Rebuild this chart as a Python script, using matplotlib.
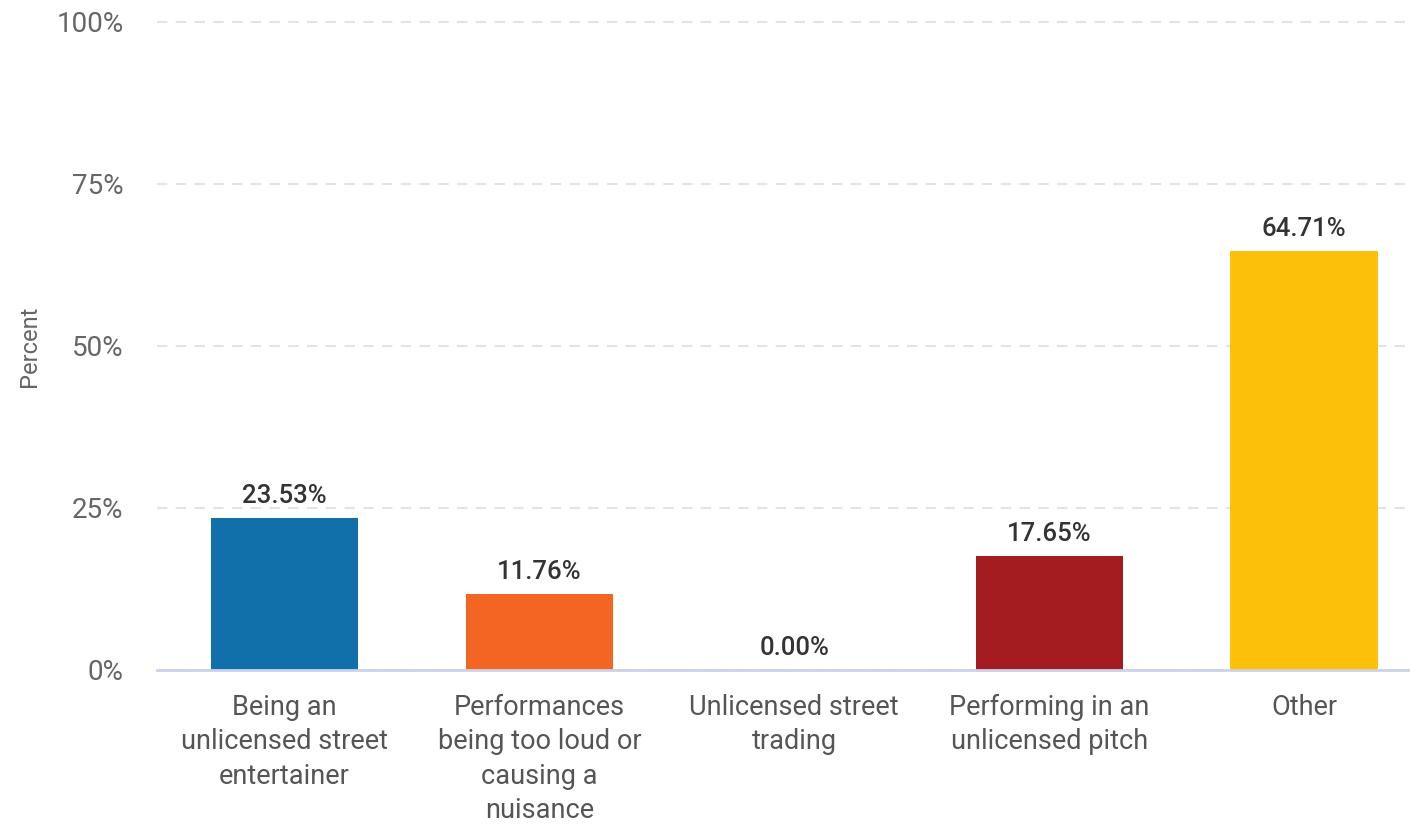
import matplotlib.pyplot as plt
from matplotlib.ticker import FuncFormatter

plt.rcParams['font.family'] = ['Roboto', 'DejaVu Sans']

categories = [
    "Being an\nunlicensed street\nentertainer",
    "Performances\nbeing too loud or\ncausing a\nnuisance",
    "Unlicensed street\ntrading",
    "Performing in an\nunlicensed pitch",
    "Other",
]
values = [23.53, 11.76, 0.00, 17.65, 64.71]
colors = ["#1170AA", "#F26522", "#7F7F7F", "#A51C20", "#FCBF0A"]
yticks = [0, 25, 50, 75, 100]

fig = plt.figure(figsize=(14.10, 8.24), dpi=100)
ax = fig.add_axes([157 / 1410, 1 - 670 / 824, 1 - 157 / 1410, (670 - 22) / 824])

x = list(range(len(categories)))
ax.bar(x, values, width=0.577, color=colors, zorder=3)

for xi, v in zip(x, values):
    ax.annotate(f"{v:.2f}%", (xi, v), xytext=(0, 7), textcoords="offset points",
                ha="center", va="bottom", fontsize=18.5, fontweight="medium",
                color="#333333", zorder=4)

ax.set_xlim(-0.5, 4.416)
ax.set_ylim(0, 100)
ax.set_yticks(yticks)
ax.yaxis.set_major_formatter(FuncFormatter(lambda v, p: f"{v:.0f}%"))
ax.set_xticks(x)
ax.set_xticklabels(categories, fontsize=19.5, color="#555555", linespacing=1.36)

ax.tick_params(axis="y", length=0, pad=24, labelsize=20, labelcolor="#666666")
ax.tick_params(axis="x", length=0, pad=17)

for s in ["top", "right", "left"]:
    ax.spines[s].set_visible(False)
ax.spines["bottom"].set_color("#CCD3E8")
ax.spines["bottom"].set_linewidth(2)
ax.spines["bottom"].set_zorder(5)

ax.grid(axis="y", color="#E3E3E3", linestyle=(0, (5, 4)), linewidth=1.5, zorder=0)
ax.grid(axis="x", visible=False)
for line in ax.get_ygridlines():
    line.set_clip_on(False)

ax.set_ylabel("Percent", fontsize=17, color="#666666")
ax.yaxis.set_label_coords(-157 / 1410 + 27 / 1410, 0.5)

fig.savefig("out.png", dpi=100)
